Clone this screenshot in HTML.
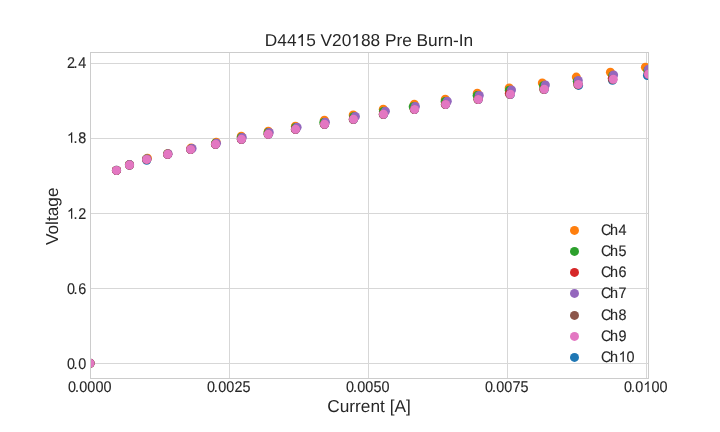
<!DOCTYPE html>
<html><head><meta charset="utf-8"><title>D4415 V20188 Pre Burn-In</title>
<style>
html,body{margin:0;padding:0;background:#fff;}
body{width:720px;height:432px;overflow:hidden;}
svg{display:block;will-change:transform;opacity:0.999;font-family:"Liberation Sans",sans-serif;fill:#262626;text-rendering:geometricPrecision;}
.h{fill:none;}
.s text{stroke:#262626;stroke-width:0.12px;}
</style></head><body>
<svg width="720" height="432" viewBox="0 0 720 432">
<rect x="0" y="0" width="720" height="432" fill="#ffffff"/>
<g fill="#d7d7d7" shape-rendering="crispEdges">
<rect x="90" y="63" width="558" height="1"/>
<rect x="90" y="138" width="558" height="1"/>
<rect x="90" y="213" width="558" height="1"/>
<rect x="90" y="288" width="558" height="1"/>
<rect x="90" y="363" width="558" height="1"/>
<rect x="229" y="52" width="1" height="326"/>
<rect x="368" y="52" width="1" height="326"/>
<rect x="507" y="52" width="1" height="326"/>
<rect x="646" y="52" width="1" height="326"/>
</g>
<defs><clipPath id="ax2"><rect x="90.5" y="52" width="557.8" height="326"/></clipPath></defs>
<g clip-path="url(#ax2)">
<g fill="#1f77b4"><circle cx="90.0" cy="363.3" r="4.50"/><circle cx="116.5" cy="170.6" r="4.50"/><circle cx="129.5" cy="165.2" r="4.50"/><circle cx="146.7" cy="160.2" r="4.50"/><circle cx="167.7" cy="154.5" r="4.50"/><circle cx="190.7" cy="149.6" r="4.50"/><circle cx="215.6" cy="144.5" r="4.50"/><circle cx="241.5" cy="139.5" r="4.50"/><circle cx="268.3" cy="134.4" r="4.50"/><circle cx="295.6" cy="129.5" r="4.50"/><circle cx="324.6" cy="124.5" r="4.50"/><circle cx="353.5" cy="119.5" r="4.50"/><circle cx="383.5" cy="114.5" r="4.50"/><circle cx="414.6" cy="109.6" r="4.50"/><circle cx="445.7" cy="104.6" r="4.50"/><circle cx="478.3" cy="99.6" r="4.50"/><circle cx="510.4" cy="94.5" r="4.50"/><circle cx="544.3" cy="89.5" r="4.50"/><circle cx="578.6" cy="85.4" r="4.50"/><circle cx="612.5" cy="80.2" r="4.50"/><circle cx="647.4" cy="75.5" r="4.50"/></g>
<g fill="#ff7f0e"><circle cx="90.0" cy="363.3" r="4.50"/><circle cx="116.5" cy="170.4" r="4.50"/><circle cx="129.5" cy="164.8" r="4.50"/><circle cx="147.4" cy="158.2" r="4.50"/><circle cx="167.8" cy="153.6" r="4.50"/><circle cx="191.2" cy="147.9" r="4.50"/><circle cx="216.2" cy="142.3" r="4.50"/><circle cx="241.3" cy="136.3" r="4.50"/><circle cx="268.3" cy="131.3" r="4.50"/><circle cx="295.4" cy="126.3" r="4.50"/><circle cx="324.4" cy="120.3" r="4.50"/><circle cx="353.2" cy="115.0" r="4.50"/><circle cx="383.3" cy="109.2" r="4.50"/><circle cx="414.3" cy="104.2" r="4.50"/><circle cx="445.3" cy="99.2" r="4.50"/><circle cx="477.3" cy="93.3" r="4.50"/><circle cx="509.2" cy="87.9" r="4.50"/><circle cx="542.3" cy="82.9" r="4.50"/><circle cx="576.3" cy="77.1" r="4.50"/><circle cx="610.4" cy="72.3" r="4.50"/><circle cx="645.4" cy="67.3" r="4.50"/></g>
<g fill="#2ca02c"><circle cx="90.0" cy="363.3" r="4.50"/><circle cx="116.5" cy="170.3" r="4.50"/><circle cx="129.4" cy="164.6" r="4.50"/><circle cx="146.6" cy="158.9" r="4.50"/><circle cx="167.5" cy="153.9" r="4.50"/><circle cx="191.4" cy="148.6" r="4.50"/><circle cx="215.6" cy="143.3" r="4.50"/><circle cx="241.2" cy="137.6" r="4.50"/><circle cx="268.0" cy="132.6" r="4.50"/><circle cx="295.6" cy="127.4" r="4.50"/><circle cx="323.8" cy="122.5" r="4.50"/><circle cx="353.6" cy="116.7" r="4.50"/><circle cx="383.4" cy="111.5" r="4.50"/><circle cx="413.2" cy="106.7" r="4.50"/><circle cx="445.1" cy="101.5" r="4.50"/><circle cx="477.1" cy="95.6" r="4.50"/><circle cx="509.3" cy="90.2" r="4.50"/><circle cx="543.5" cy="85.8" r="4.50"/><circle cx="577.3" cy="81.2" r="4.50"/><circle cx="612.6" cy="75.8" r="4.50"/><circle cx="647.8" cy="70.5" r="4.50"/></g>
<g fill="#d62728"><circle cx="90.0" cy="363.3" r="4.50"/><circle cx="116.5" cy="170.4" r="4.50"/><circle cx="129.5" cy="165.0" r="4.50"/><circle cx="146.7" cy="159.4" r="4.50"/><circle cx="167.7" cy="154.3" r="4.50"/><circle cx="190.6" cy="149.3" r="4.50"/><circle cx="215.5" cy="144.2" r="4.50"/><circle cx="241.4" cy="139.2" r="4.50"/><circle cx="268.2" cy="134.1" r="4.50"/><circle cx="295.5" cy="129.2" r="4.50"/><circle cx="324.5" cy="124.2" r="4.50"/><circle cx="353.3" cy="119.1" r="4.50"/><circle cx="383.3" cy="114.1" r="4.50"/><circle cx="414.4" cy="109.2" r="4.50"/><circle cx="445.5" cy="104.2" r="4.50"/><circle cx="478.1" cy="99.2" r="4.50"/><circle cx="509.3" cy="93.6" r="4.50"/><circle cx="544.0" cy="89.0" r="4.50"/><circle cx="578.0" cy="84.1" r="4.50"/><circle cx="612.2" cy="78.6" r="4.50"/><circle cx="648.3" cy="73.6" r="4.50"/></g>
<g fill="#9467bd"><circle cx="90.0" cy="363.3" r="4.50"/><circle cx="116.5" cy="170.3" r="4.50"/><circle cx="129.6" cy="164.6" r="4.50"/><circle cx="147.0" cy="158.9" r="4.50"/><circle cx="168.1" cy="153.8" r="4.50"/><circle cx="192.1" cy="148.5" r="4.50"/><circle cx="216.5" cy="143.2" r="4.50"/><circle cx="242.3" cy="137.5" r="4.50"/><circle cx="269.3" cy="132.5" r="4.50"/><circle cx="297.1" cy="127.3" r="4.50"/><circle cx="325.4" cy="122.3" r="4.50"/><circle cx="355.4" cy="116.5" r="4.50"/><circle cx="385.4" cy="111.3" r="4.50"/><circle cx="415.4" cy="106.5" r="4.50"/><circle cx="447.3" cy="101.3" r="4.50"/><circle cx="479.3" cy="95.4" r="4.50"/><circle cx="511.5" cy="90.0" r="4.50"/><circle cx="545.4" cy="85.0" r="4.50"/><circle cx="578.3" cy="80.4" r="4.50"/><circle cx="613.6" cy="75.0" r="4.50"/><circle cx="648.5" cy="69.3" r="4.50"/></g>
<g fill="#8c564b"><circle cx="90.0" cy="363.3" r="4.50"/><circle cx="116.5" cy="170.4" r="4.50"/><circle cx="129.5" cy="165.0" r="4.50"/><circle cx="146.6" cy="159.4" r="4.50"/><circle cx="167.6" cy="154.3" r="4.50"/><circle cx="190.6" cy="149.5" r="4.50"/><circle cx="215.4" cy="144.4" r="4.50"/><circle cx="241.3" cy="139.4" r="4.50"/><circle cx="268.1" cy="134.3" r="4.50"/><circle cx="295.3" cy="129.4" r="4.50"/><circle cx="324.3" cy="124.4" r="4.50"/><circle cx="353.2" cy="119.5" r="4.50"/><circle cx="383.2" cy="114.5" r="4.50"/><circle cx="414.2" cy="109.6" r="4.50"/><circle cx="445.3" cy="104.6" r="4.50"/><circle cx="477.9" cy="99.6" r="4.50"/><circle cx="509.9" cy="94.5" r="4.50"/><circle cx="543.8" cy="89.6" r="4.50"/><circle cx="577.8" cy="84.7" r="4.50"/><circle cx="612.7" cy="79.6" r="4.50"/><circle cx="648.4" cy="74.4" r="4.50"/></g>
<g fill="#e377c2"><circle cx="90.0" cy="363.3" r="4.50"/><circle cx="116.5" cy="170.4" r="4.50"/><circle cx="129.5" cy="165.0" r="4.50"/><circle cx="146.7" cy="159.4" r="4.50"/><circle cx="167.7" cy="154.3" r="4.50"/><circle cx="190.7" cy="149.4" r="4.50"/><circle cx="215.6" cy="144.3" r="4.50"/><circle cx="241.5" cy="139.3" r="4.50"/><circle cx="268.3" cy="134.2" r="4.50"/><circle cx="295.6" cy="129.3" r="4.50"/><circle cx="324.6" cy="124.3" r="4.50"/><circle cx="353.5" cy="119.3" r="4.50"/><circle cx="383.5" cy="114.3" r="4.50"/><circle cx="414.6" cy="109.4" r="4.50"/><circle cx="445.7" cy="104.4" r="4.50"/><circle cx="478.3" cy="99.4" r="4.50"/><circle cx="510.4" cy="94.3" r="4.50"/><circle cx="544.3" cy="89.3" r="4.50"/><circle cx="578.3" cy="84.4" r="4.50"/><circle cx="613.3" cy="79.3" r="4.50"/><circle cx="648.5" cy="74.3" r="4.50"/></g>
</g>
<g fill="#cccccc" shape-rendering="crispEdges">
<rect x="90" y="52" width="559" height="1"/>
<rect x="90" y="378" width="559" height="1"/>
<rect x="90" y="52" width="1" height="327"/>
<rect x="648" y="52" width="1" height="327"/>
</g>
<circle cx="574.5" cy="230.4" r="4.50" fill="#ff7f0e"/><circle cx="574.5" cy="251.4" r="4.50" fill="#2ca02c"/><circle cx="574.5" cy="272.4" r="4.50" fill="#d62728"/><circle cx="574.5" cy="293.4" r="4.50" fill="#9467bd"/><circle cx="574.5" cy="315.4" r="4.50" fill="#8c564b"/><circle cx="574.5" cy="336.4" r="4.50" fill="#e377c2"/><circle cx="574.5" cy="357.4" r="4.50" fill="#1f77b4"/>
<g transform="translate(369.00,46.00)"><text id="t0" text-anchor="middle" font-size="17.28">D44<tspan class="h">1</tspan>5 V20<tspan class="h">1</tspan>88 Pre Burn-In</text><path transform="translate(-72.48,0) scale(0.008438,-0.008438)" d="M763,0 L583,0 L583,1102 Q430,971 223,894 L223,1061 Q530,1201 645,1409 L763,1409 Z"/><path transform="translate(-17.74,0) scale(0.008438,-0.008438)" d="M763,0 L583,0 L583,1102 Q430,971 223,894 L223,1061 Q530,1201 645,1409 L763,1409 Z"/></g>
<g transform="translate(369.00,411.70)"><text id="t1" text-anchor="middle" font-size="17.28">Current [A]</text></g>
<g transform="translate(58.00,216.30) rotate(-90)"><text id="t2" text-anchor="middle" font-size="17.28">Voltage</text></g>
<g class="s" transform="translate(0,67.85) scale(1,1.0800)" font-size="14.4"><text x="66.90 73.60 78.20">2.4</text></g>
<g class="s" transform="translate(0,142.85) scale(1,1.0800)" font-size="14.4"><text x="73.60 78.20">.8</text><path transform="translate(66.90,0) scale(0.007031,-0.007031)" d="M763,0 L583,0 L583,1102 Q430,971 223,894 L223,1061 Q530,1201 645,1409 L763,1409 Z"/></g>
<g class="s" transform="translate(0,218.75) scale(1,1.0800)" font-size="14.4"><text x="73.60 78.20">.2</text><path transform="translate(66.90,0) scale(0.007031,-0.007031)" d="M763,0 L583,0 L583,1102 Q430,971 223,894 L223,1061 Q530,1201 645,1409 L763,1409 Z"/></g>
<g class="s" transform="translate(0,293.75) scale(1,1.0800)" font-size="14.4"><text x="66.90 73.60 78.20">0.6</text></g>
<g class="s" transform="translate(0,368.75) scale(1,1.0800)" font-size="14.4"><text x="66.90 73.60 78.20">0.0</text></g>
<g class="s" transform="translate(0,391.90) scale(1,1.0750)" font-size="14.4"><text x="68.10 74.90 79.30 87.30 95.50 103.50">0.0000</text></g>
<g class="s" transform="translate(0,391.90) scale(1,1.0750)" font-size="14.4"><text x="207.00 213.80 218.20 226.20 234.40 242.40">0.0025</text></g>
<g class="s" transform="translate(0,391.90) scale(1,1.0750)" font-size="14.4"><text x="346.10 352.90 357.30 365.30 373.50 381.50">0.0050</text></g>
<g class="s" transform="translate(0,391.90) scale(1,1.0750)" font-size="14.4"><text x="485.10 491.90 496.30 504.30 512.50 520.50">0.0075</text></g>
<g class="s" transform="translate(0,391.90) scale(1,1.0750)" font-size="14.4"><text x="624.10 630.90 635.30 651.50 659.50">0.000</text><path transform="translate(643.30,0) scale(0.007031,-0.007031)" d="M763,0 L583,0 L583,1102 Q430,971 223,894 L223,1061 Q530,1201 645,1409 L763,1409 Z"/></g>
<g class="s" transform="translate(0,234.90) scale(1,1.0650)" font-size="14.4"><text x="600.90 610.05 618.50">Ch4</text></g>
<g class="s" transform="translate(0,255.90) scale(1,1.0650)" font-size="14.4"><text x="600.90 610.05 618.50">Ch5</text></g>
<g class="s" transform="translate(0,276.90) scale(1,1.0650)" font-size="14.4"><text x="600.90 610.05 618.50">Ch6</text></g>
<g class="s" transform="translate(0,297.85) scale(1,1.0650)" font-size="14.4"><text x="600.90 610.05 618.50">Ch7</text></g>
<g class="s" transform="translate(0,319.95) scale(1,1.0650)" font-size="14.4"><text x="600.90 610.05 618.50">Ch8</text></g>
<g class="s" transform="translate(0,340.95) scale(1,1.0650)" font-size="14.4"><text x="600.90 610.05 618.50">Ch9</text></g>
<g class="s" transform="translate(0,361.70) scale(1,1.0650)" font-size="14.4"><text x="600.90 610.05 626.50">Ch0</text><path transform="translate(618.50,0) scale(0.007031,-0.007031)" d="M763,0 L583,0 L583,1102 Q430,971 223,894 L223,1061 Q530,1201 645,1409 L763,1409 Z"/></g>
</svg>
</body></html>
